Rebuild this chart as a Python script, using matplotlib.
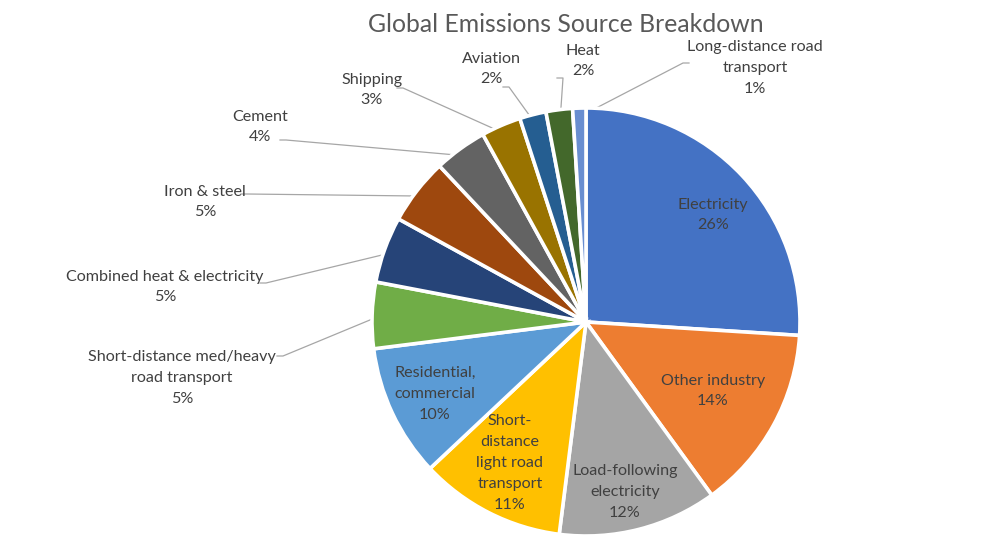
import numpy as np
import matplotlib
matplotlib.use("Agg")
import matplotlib.pyplot as plt

# data, clockwise from 12 o'clock
sources = ["Electricity", "Other industry", "Load-following\nelectricity",
           "Short-\ndistance\nlight road\ntransport", "Residential,\ncommercial",
           "Short-distance med/heavy\nroad transport", "Combined heat & electricity",
           "Iron & steel", "Cement", "Shipping", "Aviation", "Heat",
           "Long-distance road\ntransport"]
shares = [26, 14, 12, 11, 10, 5, 5, 5, 4, 3, 2, 2, 1]
colors = ["#4472C4", "#ED7D31", "#A5A5A5", "#FFC000", "#5B9BD5", "#70AD47",
          "#264478", "#9E480E", "#636363", "#997300", "#255E91", "#43682B",
          "#698ED0"]

plt.rcParams['font.family'] = ['Lato', 'DejaVu Sans']
W, H = 991, 550
fig = plt.figure(figsize=(W / 100, H / 100), dpi=100)
ax = fig.add_axes([0, 0, 1, 1])

cx, cy, R = 586, H - 322, 214
wedges, _ = ax.pie(shares, colors=colors, startangle=90, counterclock=False,
                   center=(cx, cy), radius=R, frame=True,
                   wedgeprops=dict(edgecolor='white', linewidth=2.6))
ax.set_xlim(0, W)
ax.set_ylim(0, H)
ax.axis('off')

txt_col = "#404040"
fs = 11.6
lsp = 1.62

# label centres in px from the top-left
inside = {0: (713, 215), 1: (713, 391), 2: (625, 492), 3: (510, 463),
          4: (435, 394)}
# outside labels: (text x, text y, elbow x, elbow y)
outside = {
    5: (182, 378, 283, 356),
    6: (165, 287, 266, 283),
    7: (205, 202, 247, 194),
    8: (260, 127, 286, 140),
    9: (372, 90, 403, 88),
    10: (491, 69, 509, 87),
    11: (583, 61, 563, 78),
    12: (755, 68, 683, 63),
}

for i, w in enumerate(wedges):
    mid = np.deg2rad((w.theta1 + w.theta2) / 2)
    lab = f"{sources[i]}\n{shares[i]}%"
    if i in inside:
        tx, ty = inside[i]
        ax.text(tx, H - ty, lab, ha='center', va='center', fontsize=fs,
                color=txt_col, linespacing=lsp)
    else:
        tx, ty, ex, ey = outside[i]
        ax.text(tx, H - ty, lab, ha='center', va='center', fontsize=fs,
                color=txt_col, linespacing=lsp)
        px = cx + R * 0.96 * np.cos(mid)
        py = cy + R * 0.96 * np.sin(mid)
        if i == 11:
            xs = [ex - 6, ex, px]
        else:
            xs = [ex + (-6 if ex < cx else 6), ex, px]
        ys = [H - ey, H - ey, py]
        ax.plot(xs, ys, color="#A6A6A6", lw=0.9, zorder=0.5)

ax.text(566, H - 25, "Global Emissions Source Breakdown", ha='center',
        va='center', fontsize=17.8, color="#595959")

fig.savefig("out.png", dpi=100)
